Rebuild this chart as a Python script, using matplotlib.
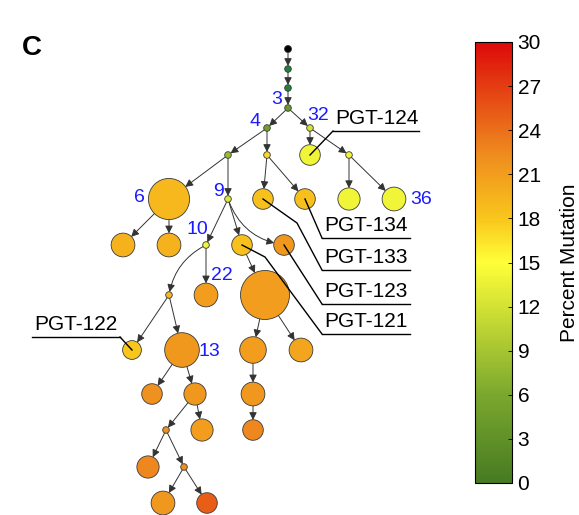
import matplotlib.pyplot as plt
import matplotlib as mpl
import numpy as np
from matplotlib.patches import Circle, FancyArrowPatch
from matplotlib.colors import LinearSegmentedColormap

plt.rcParams['font.family'] = ['Liberation Sans', 'DejaVu Sans']

# lineage tree: parent of each node (-1 = germline root)
parents = [-1, 0, 1, 2, 3, 3, 4, 4, 5, 5, 6, 6, 7, 7, 9, 9, 10, 10, 11, 11,
           11, 18, 18, 19, 21, 21, 23, 23, 25, 25, 26, 29, 29, 30, 31, 31, 35, 35]
# percent mutation per node (root has none -> drawn black)
mutation = [np.nan, 0.5, 0.5, 4, 5, 12, 8, 17, 14, 14, 19, 12.5, 18.5, 18.5, 14, 14,
            19.5, 19.5, 14, 18.5, 21.5, 19, 21, 21, 18, 21.5, 21, 20.5, 22, 21.5,
            21.5, 22, 21, 22.5, 22.5, 22, 21.5, 25]
# number of sequences in each node (drives circle size)
counts = [1, 1, 1, 1, 1, 1, 1, 1, 6, 1, 24, 1, 6, 6, 7, 8, 8, 8, 1, 6, 6, 1, 8, 34,
          5, 17, 10, 8, 6, 7, 8, 1, 7, 6, 7, 1, 8, 6]
# blue node numbers
node_tags = {3: '3', 4: '4', 5: '32', 10: '6', 11: '9', 18: '10', 15: '36', 22: '22', 25: '13'}
# antibody names
antibodies = {8: 'PGT-124', 13: 'PGT-134', 12: 'PGT-133', 20: 'PGT-123', 19: 'PGT-121', 24: 'PGT-122'}
cbar_ticks = list(range(0, 31, 3))

# layout (graph drawing positions)
row_y = [49, 69, 88, 108, 128, 155, 199, 245, 295, 350, 394, 430, 467, 503]
node_x = [288, 288, 288, 288, 267, 310, 228, 267, 310, 349, 169, 228, 263, 305, 349, 394,
          123, 169, 206, 242, 284, 169, 206, 265, 132, 182, 253, 301, 152, 195, 253,
          166, 202, 253, 148, 184, 163, 207]
curved = {20: 0.3, 21: 0.25}

depth = []
for i, p in enumerate(parents):
    depth.append(0 if p < 0 else depth[p] + 1)
node_y = [row_y[d] for d in depth]
radius = [3.3 if c == 1 else 4.2 * np.sqrt(c) for c in counts]
radius[0] = 3.5

cmap = LinearSegmentedColormap.from_list('mut', [(0, '#477a22'), (0.2, '#7aa82e'), (0.5, '#ffff38'),
                                                  (0.6, '#f9c61c'), (0.75, '#ee8a1e'), (1, '#dd0a0a')])
cmap.set_bad('black')
norm = mpl.colors.Normalize(0, 30)

fig = plt.figure(figsize=(5.79, 5.15), dpi=100)
ax = fig.add_axes([0, 0, 1, 1])
ax.set_xlim(0, 579)
ax.set_ylim(515, 0)
ax.axis('off')

circles = []
for i in range(len(parents)):
    v = mutation[i]
    fc = cmap(norm(v)) if not np.isnan(v) else 'black'
    if i in (1, 2):
        fc = '#22803e'
    c = Circle((node_x[i], node_y[i]), radius[i], facecolor=fc, edgecolor='#3a3a3a', lw=0.6, zorder=3)
    ax.add_patch(c)
    circles.append(c)

for i, p in enumerate(parents):
    if p < 0:
        continue
    rad = curved.get(i, 0)
    arr = FancyArrowPatch((node_x[p], node_y[p]), (node_x[i], node_y[i]),
                          patchA=circles[p], patchB=circles[i],
                          arrowstyle='-|>,head_length=0.5,head_width=0.25', mutation_scale=9,
                          connectionstyle='arc3,rad=%s' % rad, color='#333333', lw=0.7,
                          shrinkA=0, shrinkB=0, zorder=2)
    ax.add_patch(arr)

tag_pos = {3: (-11, -8), 4: (-12, -6), 5: (8, -13), 10: (-30, -2), 11: (-10, -8),
           18: (-9, -15), 15: (27, 0), 22: (16, -19), 25: (27, 1)}
for i, t in node_tags.items():
    dx, dy = tag_pos[i]
    ax.text(node_x[i] + dx, node_y[i] + dy, t, color='#1a1aff', fontsize=14,
            ha='center', va='center', zorder=5)

# leader lines: (bend points), underline y, underline x range
leaders = {8: ([], 131, 333, 419), 13: ([], 238, 322, 410), 12: ([(297, 223)], 270, 322, 410),
           20: ([], 304, 322, 410), 19: ([(265, 257)], 334, 322, 410), 24: ([], 337, 32, 120)}
for i, name in antibodies.items():
    bends, uy, x0, x1 = leaders[i]
    end = (x1, uy) if i == 24 else (x0, uy)
    pts = [(node_x[i], node_y[i])] + bends + [end]
    ax.plot([q[0] for q in pts], [q[1] for q in pts], color='black', lw=1.0, zorder=4)
    ax.plot([x0, x1], [uy, uy], color='black', lw=1.0, zorder=4)
    ax.text(x0 + 2, uy - 3, name, fontsize=15, ha='left', va='bottom', zorder=5)

fig.text(22 / 579, 1 - 48 / 515, 'C', fontsize=20, fontweight='bold', ha='left', va='center')

cax = fig.add_axes([475 / 579, 32 / 515, 37 / 579, 441 / 515])
sm = mpl.cm.ScalarMappable(norm=norm, cmap=cmap)
cb = fig.colorbar(sm, cax=cax, ticks=cbar_ticks)
cb.outline.set_linewidth(0.8)
cax.tick_params(direction='in', length=3, width=0.6, labelsize=15, pad=4)
cb.set_label('Percent Mutation', fontsize=15, labelpad=14)

fig.savefig('out.png', dpi=100)
